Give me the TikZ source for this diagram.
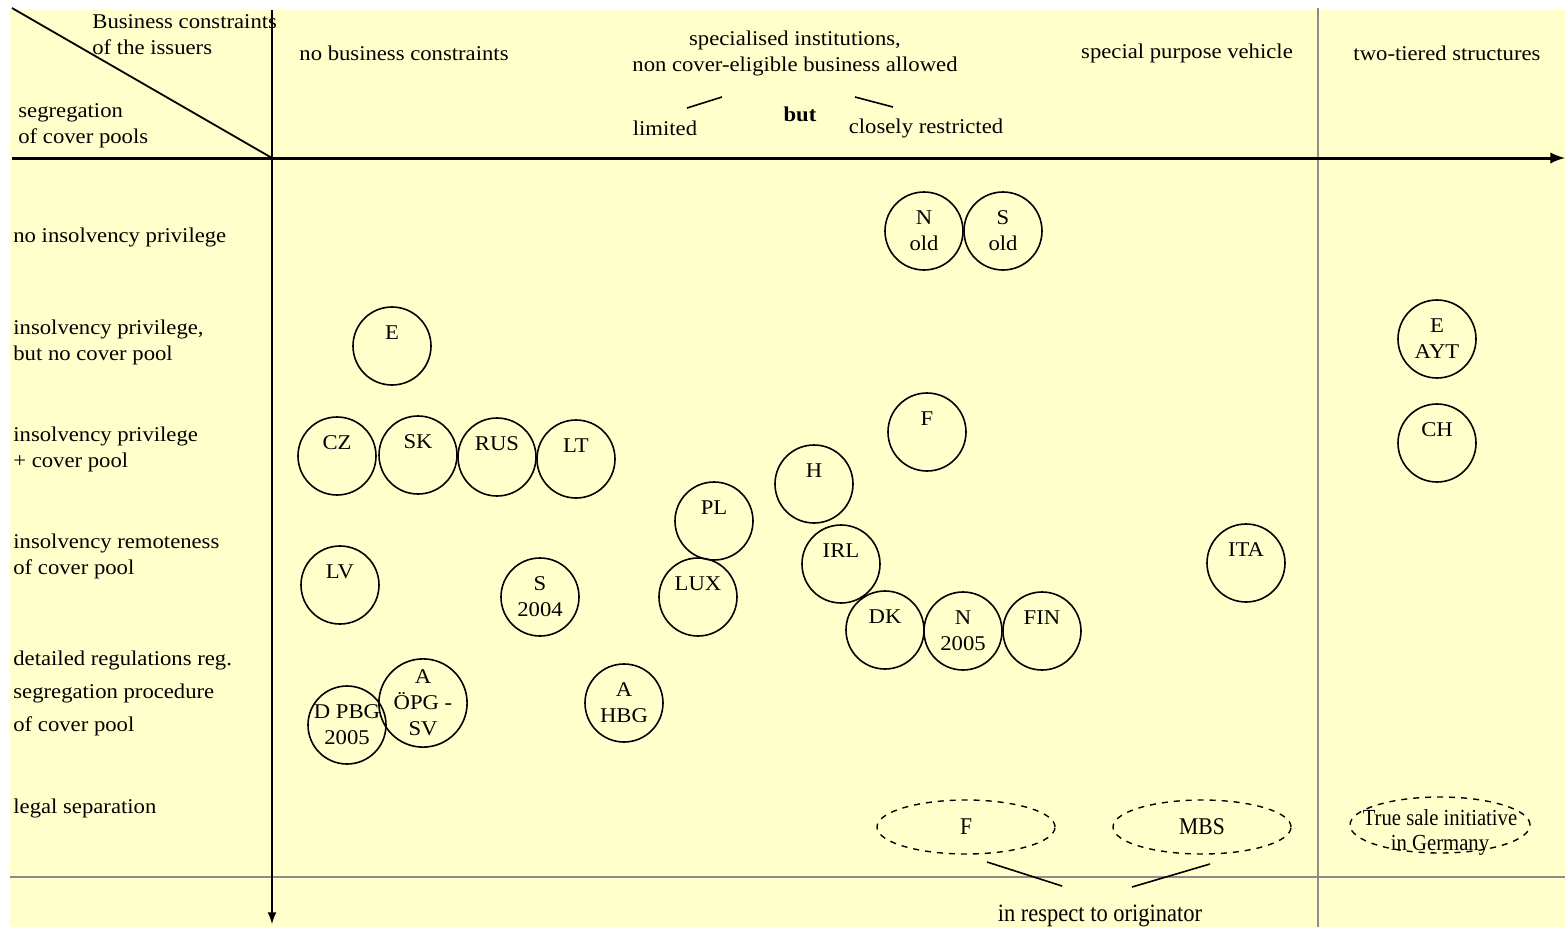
\documentclass[tikz,border=0pt]{standalone}
\usepackage{fontspec}
\setmainfont[FakeStretch=1.08]{Liberation Serif}
\newfontfamily\schmal[FakeStretch=0.9]{Liberation Serif}
\usepackage{tikz}
\usetikzlibrary{shapes.geometric}
\usepackage{xcolor}
\definecolor{hellgelb}{HTML}{FFFFCC}
\definecolor{trenngrau}{HTML}{8C8C8C}

\tikzset{
  txt/.style={inner sep=0pt, font=\fontsize{10.5}{13}\selectfont},
  land/.style={circle, draw, line width=0.8pt, minimum size=39pt, inner sep=0pt, align=center, font=\fontsize{10.5}{13}\selectfont},
  ellip/.style={ellipse, draw, dashed, line width=0.7pt, minimum width=89pt, minimum height=27pt, inner sep=0pt, align=center, font=\schmal\fontsize{12}{12.5}\selectfont}
}

\begin{document}
\begin{tikzpicture}[x=0.5pt,y=-0.5pt,>=latex]
\useasboundingbox (0,0) rectangle (1565,927);

%Hintergrund
\fill[hellgelb] (10,10) rectangle (1565,927);

%Trennlinien grau
\draw[trenngrau, line width=1.4pt] (1318,8) -- (1318,927);
\draw[trenngrau, line width=1.4pt] (10,877) -- (1565,877);

%Achsen und Diagonale
\draw[->, line width=1.5pt] (12,158) -- (1565,158);
\draw[->, line width=1pt] (272,10) -- (272,924);
\draw[line width=0.9pt] (12,8) -- (272,158);

%Kopfzeile
\node[txt, anchor=west, align=left] (kopf) at (92,35) {Business constraints\\of the issuers};
\node[txt, anchor=west, align=left] (segr) at (18,126) {segregation\\of cover pools};
\node[txt] (keine) at (404,53) {no business constraints};
\node[txt, align=center] (spez) at (795,53) {specialised institutions,\\non cover-eligible business allowed};
\node[txt] (limited) at (665,128) {limited};
\node[txt, font=\fontsize{10.5}{13}\selectfont\bfseries] (but) at (800,114) {but};
\node[txt] (closely) at (926,128) {closely restricted};
\node[txt] (spv) at (1187,53) {special purpose vehicle};
\node[txt] (zwei) at (1447,53) {two-tiered structures};

\coordinate (l1) at (687,108);
\coordinate (l2) at (722,97);
\coordinate (c1) at (855,97);
\coordinate (c2) at (893,107);
\draw[line width=0.8pt] (l1) -- (l2);
\draw[line width=0.8pt] (c1) -- (c2);

%Zeilenbeschriftung links
\node[txt, anchor=west] (z1) at (13,237) {no insolvency privilege};
\node[txt, anchor=west, align=left] (z2) at (13,342) {insolvency privilege,\\but no cover pool};
\node[txt, anchor=west, align=left] (z3) at (13,449) {insolvency privilege\\+ cover pool};
\node[txt, anchor=west, align=left] (z4) at (13,556) {insolvency remoteness\\of cover pool};
\node[txt, anchor=west, align=left] (z5) at (13,693) {detailed regulations reg.\\[3.5pt]segregation procedure\\[3.5pt]of cover pool};
\node[txt, anchor=west] (z6) at (13,808) {legal separation};

%Laender
\node[land] (nold) at (924,231) {N\\old};
\node[land] (sold) at (1003,231) {S\\old};
\node[land] (e) at (392,346) {E\\~};
\node[land] (eayt) at (1437,339) {E\\AYT};
\node[land] (ch) at (1437,443) {CH\\~};
\node[land] (f) at (927,432) {F\\~};
\node[land] (cz) at (337,456) {CZ\\~};
\node[land] (sk) at (418,455) {SK\\~};
\node[land] (rus) at (497,457) {RUS\\~};
\node[land] (lt) at (576,459) {LT\\~};
\node[land] (h) at (814,484) {H\\~};
\node[land] (pl) at (714,521) {PL\\~};
\node[land] (lux) at (698,597) {LUX\\~};
\node[land] (irl) at (841,564) {IRL\\~};
\node[land] (ita) at (1246,563) {ITA\\~};
\node[land] (lv) at (340,585) {LV\\~};
\node[land] (s2004) at (540,597) {S\\2004};
\node[land] (dk) at (885,630) {DK\\~};
\node[land] (n2005) at (963,631) {N\\2005};
\node[land] (fin) at (1042,631) {FIN\\~};
\node[land] (dpbg) at (347,725) {D PBG\\2005};
\node[land] (aopg) at (423,703) {A\\ÖPG -\\SV};
\node[land] (ahbg) at (624,703) {A\\HBG};

%gestrichelte Ellipsen
\node[ellip] (fmbs) at (966,827) {F};
\node[ellip] (mbs) at (1202,827) {MBS};
\node[ellip, minimum width=90pt, minimum height=28pt] (tsi) at (1440,825) {};
\node[txt, align=center, font=\schmal\fontsize{11.5}{12.5}\selectfont] (tsitext) at (1440,832) {True sale initiative\\in Germany};

\node[txt, font=\schmal\fontsize{12.5}{13}\selectfont] (orig) at (1100,916) {in respect to originator};
\coordinate (o1) at (987,862);
\coordinate (o2) at (1062,886);
\coordinate (o3) at (1132,887);
\coordinate (o4) at (1210,864);
\draw[line width=0.8pt] (o1) -- (o2);
\draw[line width=0.8pt] (o3) -- (o4);

\end{tikzpicture}
\end{document}
